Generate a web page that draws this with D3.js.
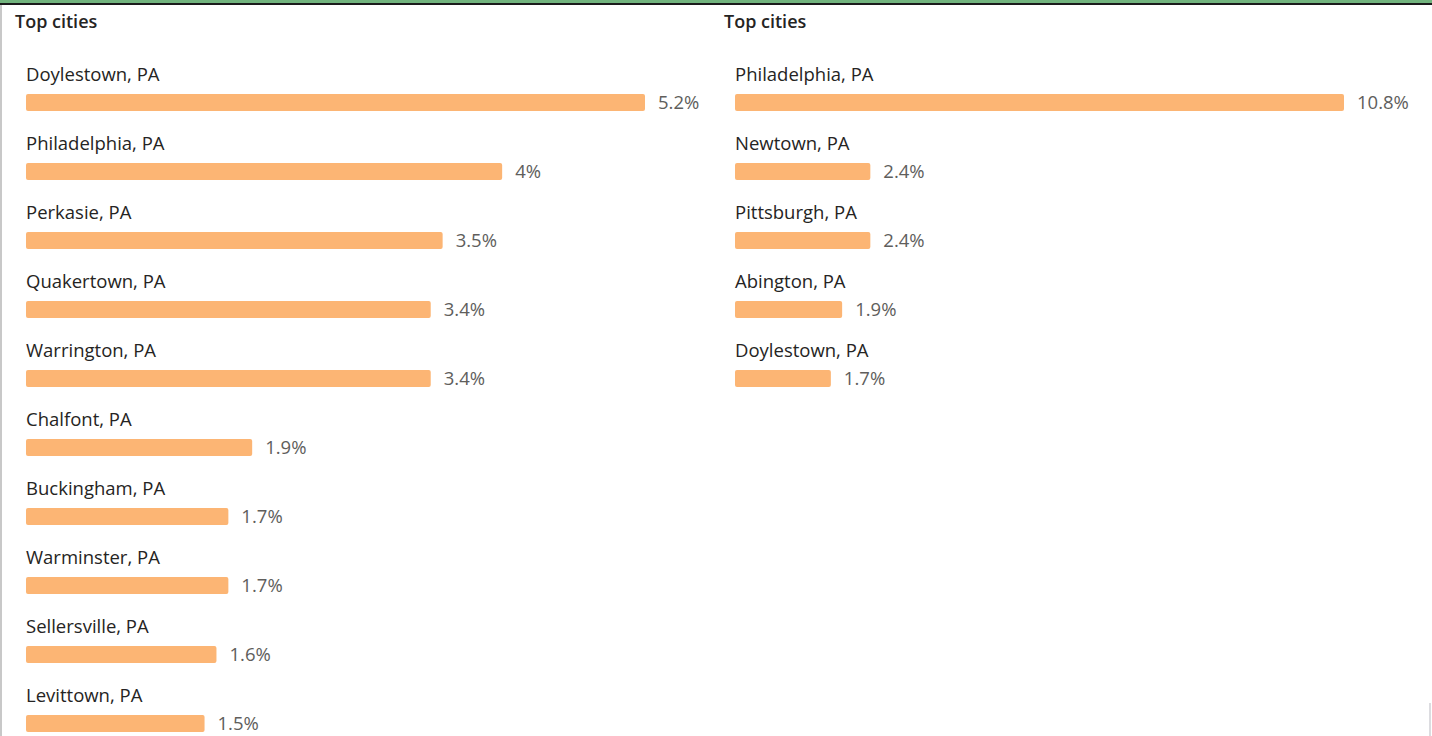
<!DOCTYPE html>
<html>
<head>
<meta charset="utf-8">
<script src="https://cdn.jsdelivr.net/npm/d3@7"></script>
<style>
  html, body { margin: 0; padding: 0; background: #fff; overflow: hidden; }
  text { font-family: "Open Sans", "Noto Sans", sans-serif; }
</style>
</head>
<body>
<div id="vis"></div>
<script>
const W = 1432, H = 736;

// left panel data
const leftCities = ['Doylestown, PA', 'Philadelphia, PA', 'Perkasie, PA', 'Quakertown, PA', 'Warrington, PA',
  'Chalfont, PA', 'Buckingham, PA', 'Warminster, PA', 'Sellersville, PA', 'Levittown, PA'];
const leftValues = [5.2, 4, 3.5, 3.4, 3.4, 1.9, 1.7, 1.7, 1.6, 1.5];

// right panel data
const rightCities = ['Philadelphia, PA', 'Newtown, PA', 'Pittsburgh, PA', 'Abington, PA', 'Doylestown, PA'];
const rightValues = [10.8, 2.4, 2.4, 1.9, 1.7];

const panelTitle = 'Top cities';

const svg = d3.select('#vis')
  .append('svg')
  .attr('width', W)
  .attr('height', H);

// frame bits from the host page
svg.append('rect').attr('x', 0).attr('y', 0).attr('width', W).attr('height', 3).attr('fill', '#72b47e');
svg.append('rect').attr('x', 0).attr('y', 3).attr('width', W).attr('height', 2).attr('fill', '#1b1b1b');
svg.append('rect').attr('x', 0).attr('y', 5).attr('width', 2).attr('height', H - 5).attr('fill', '#c8c8c8');
svg.append('rect').attr('x', 1429).attr('y', 703).attr('width', 2).attr('height', H - 703).attr('fill', '#dcdce0');

function drawPanel(offsetX, cities, values, xMax) {
  const g = svg.append('g').attr('transform', `translate(${offsetX},0)`);

  g.append('text')
    .attr('x', 15)
    .attr('y', 28)
    .attr('font-size', 18)
    .attr('font-weight', 600)
    .attr('fill', '#252423')
    .text(panelTitle);

  const x = d3.scaleLinear()
    .domain([0, d3.max(values)])
    .range([26, 26 + xMax]);

  const y = d3.scaleBand()
    .domain(cities)
    .range([60, 60 + 69 * cities.length])
    .paddingInner(0);

  const rows = g.selectAll('.row')
    .data(cities.map((c, i) => ({city: c, value: values[i]})))
    .join('g')
    .attr('class', 'row')
    .attr('transform', d => `translate(0,${y(d.city)})`);

  rows.append('text')
    .attr('x', 26)
    .attr('y', 21)
    .attr('font-size', 18.5)
    .attr('fill', '#252423')
    .text(d => d.city);

  rows.append('rect')
    .attr('x', x(0))
    .attr('y', 34)
    .attr('width', d => x(d.value) - x(0))
    .attr('height', 17)
    .attr('rx', 2)
    .attr('fill', '#fcb574');

  rows.append('text')
    .attr('x', d => x(d.value) + 13)
    .attr('y', 43)
    .attr('dy', '0.35em')
    .attr('font-size', 18.5)
    .attr('fill', '#605e5c')
    .text(d => d.value + '%');
}

drawPanel(0, leftCities, leftValues, 619);
drawPanel(709, rightCities, rightValues, 609);
</script>
</body>
</html>
